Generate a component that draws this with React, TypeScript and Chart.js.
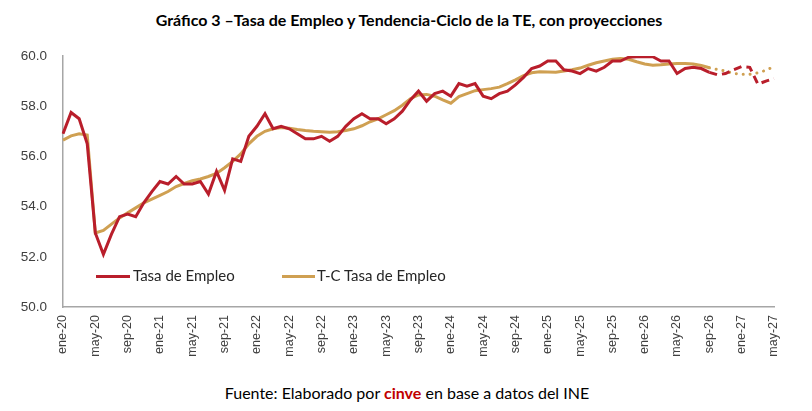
import { useEffect, useRef } from 'react'
import { Chart, registerables } from 'chart.js'

Chart.register(...registerables)

document.body.style.margin = '0'

const MONTHS = ['ene', 'feb', 'mar', 'abr', 'may', 'jun', 'jul', 'ago', 'sep', 'oct', 'nov', 'dic']
const YEARS = ['20', '21', '22', '23', '24', '25', '26', '27']
// ene-20 .. may-27
const categories: string[] = YEARS.flatMap((y) => MONTHS.map((m) => `${m}-${y}`)).slice(0, 89)

// first month that belongs to the projection (sep-26)
const PROJ_START = 80

const tasaEmpleo = [
  56.9, 57.75, 57.5, 56.5, 52.95, 52.1, 52.9, 53.6, 53.7, 53.6, 54.15, 54.6,
  55.0, 54.9, 55.2, 54.9, 54.9, 55.0, 54.5, 55.4, 54.65, 55.9, 55.8, 56.8,
  57.2, 57.7, 57.1, 57.2, 57.1, 56.9, 56.7, 56.7, 56.8, 56.6, 56.8, 57.2,
  57.5, 57.7, 57.5, 57.5, 57.3, 57.5, 57.8, 58.25, 58.6, 58.2, 58.5, 58.6,
  58.4, 58.9, 58.8, 58.9, 58.4, 58.3, 58.5, 58.6, 58.85, 59.15, 59.5, 59.6,
  59.8, 59.8, 59.45, 59.4, 59.3, 59.5, 59.4, 59.55, 59.8, 59.8, 59.95, 59.97,
  59.97, 59.97, 59.8, 59.8, 59.3, 59.5, 59.55, 59.5, 59.35, 59.25, 59.3, 59.45,
  59.58, 59.55, 58.88, 59.0, 59.1,
]

const tendenciaCiclo = [
  56.65, 56.82, 56.9, 56.85, 52.95, 53.05, 53.3, 53.55, 53.75, 53.95, 54.15, 54.3,
  54.45, 54.6, 54.8, 54.92, 55.03, 55.1, 55.2, 55.32, 55.55, 55.8, 56.1, 56.5,
  56.8, 57.0, 57.1, 57.15, 57.12, 57.07, 57.03, 57.0, 56.98, 56.96, 56.98, 57.03,
  57.1, 57.22, 57.38, 57.5, 57.66, 57.82, 58.04, 58.3, 58.45, 58.47, 58.4, 58.25,
  58.12, 58.38, 58.5, 58.62, 58.66, 58.7, 58.76, 58.9, 59.05, 59.22, 59.33, 59.37,
  59.36, 59.35, 59.4, 59.45, 59.52, 59.63, 59.73, 59.8, 59.87, 59.9, 59.87, 59.77,
  59.68, 59.63, 59.65, 59.68, 59.7, 59.7, 59.68, 59.62, 59.53, 59.46, 59.4, 59.31,
  59.27, 59.27, 59.33, 59.43, 59.58,
]

const RED = '#B91E2B'
const TAN = '#CFA052'
const TEXT = '#404040'
const AXIS = '#a6a6a6'
const NARROW = "'Liberation Sans Narrow', 'Liberation Sans', sans-serif"
const FONT = "Lato, 'Open Sans', sans-serif"

export default function App() {
  const chartRef = useRef<HTMLCanvasElement>(null)
  const chartInstance = useRef<Chart | null>(null)

  useEffect(() => {
    if (!chartRef.current) return
    if (chartInstance.current) chartInstance.current.destroy()

    const ctx = chartRef.current.getContext('2d')
    if (!ctx) return

    chartInstance.current = new Chart(ctx, {
      type: 'line',
      data: {
        labels: categories,
        datasets: [
          {
            label: 'Tasa de Empleo',
            data: tasaEmpleo,
            borderColor: RED,
            borderWidth: 3,
            pointRadius: 0,
            tension: 0,
            segment: {
              borderDash: (c: any) => (c.p0DataIndex >= PROJ_START ? [8, 5] : undefined),
            },
          },
          {
            label: 'T-C Tasa de Empleo',
            data: tendenciaCiclo,
            borderColor: TAN,
            borderWidth: 3,
            pointRadius: 0,
            tension: 0,
            segment: {
              borderDash: (c: any) => (c.p0DataIndex >= PROJ_START ? [0.1, 6.8] : undefined),
              borderCapStyle: (c: any) => (c.p0DataIndex >= PROJ_START ? 'round' : undefined),
            },
          },
        ],
      },
      options: {
        animation: false,
        responsive: true,
        maintainAspectRatio: false,
        layout: { padding: { top: 56, right: 38, left: 0, bottom: 0 } },
        plugins: {
          legend: { display: false },
          tooltip: { enabled: false },
        },
        scales: {
          x: {
            type: 'category',
            offset: false,
            grid: { display: true, drawOnChartArea: false, drawTicks: false },
            border: { display: true, color: AXIS, width: 1.5 },
            ticks: {
              autoSkip: false,
              maxRotation: 90,
              minRotation: 90,
              padding: 8,
              color: TEXT,
              font: { family: NARROW, size: 12.5 },
              callback: (_v: any, i: number) => (i % 4 === 0 ? categories[i] : null),
            },
            afterFit: (s: any) => {
              s.height = 73
            },
          },
          y: {
            min: 50,
            max: 60,
            grid: { display: true, drawOnChartArea: false, drawTicks: false },
            border: { display: true, color: AXIS, width: 1.5 },
            ticks: {
              stepSize: 2,
              padding: 16,
              color: TEXT,
              font: { family: NARROW, size: 13.5 },
              callback: (v: any) => Number(v).toFixed(1),
            },
            afterFit: (s: any) => {
              s.width = 63
            },
          },
        },
      },
    })

    return () => {
      if (chartInstance.current) {
        chartInstance.current.destroy()
        chartInstance.current = null
      }
    }
  }, [])

  return (
    <div style={{ position: 'relative', width: 812, height: 411, background: '#fff', fontFamily: FONT, color: '#262626' }}>
      <div
        style={{
          position: 'absolute',
          top: 10,
          left: 0,
          width: 818,
          textAlign: 'center',
          fontWeight: 700,
          fontSize: 16,
          color: '#000',
        }}
      >
        Gráfico 3 –Tasa de Empleo y Tendencia-Ciclo de la TE, con proyecciones
      </div>
      <div style={{ position: 'absolute', top: 0, left: 0, width: 812, height: 380 }}>
        <canvas ref={chartRef} />
      </div>
      <div style={{ position: 'absolute', top: 266, left: 0, height: 20, width: 812, fontSize: 15 }}>
        <div style={{ position: 'absolute', left: 96, top: 9, width: 34, height: 3, background: RED }} />
        <span style={{ position: 'absolute', left: 133, top: 0, whiteSpace: 'nowrap' }}>Tasa de Empleo</span>
        <div style={{ position: 'absolute', left: 282, top: 9, width: 33, height: 3, background: TAN }} />
        <span style={{ position: 'absolute', left: 317, top: 0, whiteSpace: 'nowrap' }}>T-C Tasa de Empleo</span>
      </div>
      <div
        style={{
          position: 'absolute',
          top: 383,
          left: 0,
          width: 814,
          textAlign: 'center',
          fontSize: 16,
          color: '#000',
        }}
      >
        Fuente: Elaborado por <span style={{ color: '#C00000', fontWeight: 700 }}>cinve</span> en base a datos del INE
      </div>
    </div>
  )
}
